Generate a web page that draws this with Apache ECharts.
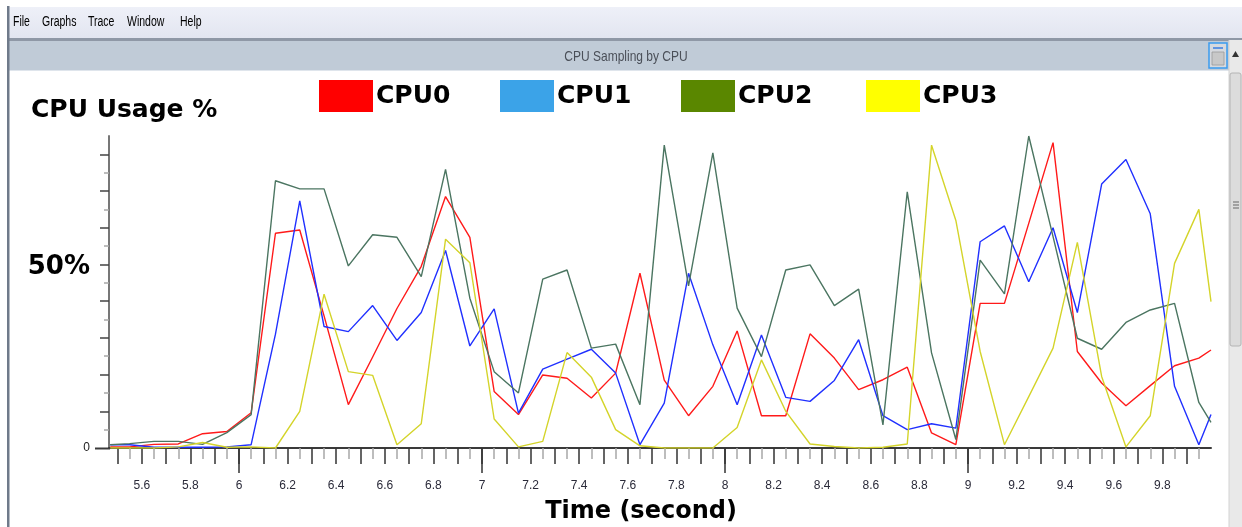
<!DOCTYPE html>
<html><head><meta charset="utf-8">
<script src="https://cdn.jsdelivr.net/npm/echarts@6/dist/echarts.min.js"></script>
<style>html,body{margin:0;padding:0;background:#fff}#c{width:1242px;height:527px}</style>
</head><body><div id="c"></div>
<script>
// ---- data (time in seconds, CPU usage %) ----
const times = [5.47,5.55,5.65,5.75,5.85,5.95,6.05,6.15,6.25,6.35,6.45,6.55,6.65,6.75,6.85,6.95,
  7.05,7.15,7.25,7.35,7.45,7.55,7.65,7.75,7.85,7.95,8.05,8.15,8.25,8.35,8.45,8.55,8.65,8.75,8.85,8.95,
  9.05,9.15,9.25,9.35,9.45,9.55,9.65,9.75,9.85,9.95,10.0];
const cpu0 = [0.3,0.3,1.0,1.1,3.9,4.5,9.6,58.5,59.4,36,11.8,24.8,38,49.5,68.5,57.4,
  15.4,9.1,19.9,19.0,13.6,20.4,47.6,18.5,8.8,16.8,31.9,8.8,8.8,31.1,24.5,15.9,18.6,22.0,4.1,0.9,
  39.4,39.4,61.2,83.2,26.3,17.7,11.5,17.0,22.4,24.5,26.7];
const cpu1 = [0.9,0.9,0.2,0.2,0.2,0.3,0.9,31,67.3,33.1,31.7,38.8,29.3,36.9,53.8,27.8,
  37.9,9.5,21.5,24.2,26.9,20.4,0.9,12.2,47.6,28.1,11.8,30.8,13.8,12.7,18.4,29.5,8.8,5.0,6.6,5.4,
  56.2,60.5,45.3,60.0,36.9,71.9,78.6,63.8,16.8,0.9,9.1];
const cpu2 = [0.9,1.2,1.8,1.8,1.0,4.2,9.1,72.8,70.6,70.6,49.6,58.1,57.4,46.7,75.9,40.8,
  20.8,15.0,46.0,48.5,27.2,28.3,11.8,82.5,44.2,80.4,38.1,24.9,48.5,49.9,38.8,43.3,6.3,69.8,25.9,2.3,
  51.2,42.0,85.0,57.6,29.9,26.9,34.2,37.6,39.4,12.4,7.0];
const cpu3 = [0,0,0,0.3,1.5,0.2,0.3,0,10.0,41.9,20.8,19.8,0.9,6.6,56.9,50.5,
  7.9,0.3,1.8,26.0,19.3,5.0,0.6,0,0,0,5.6,24.0,10.0,1.1,0.4,0,0.2,1.1,82.5,62,
  26.3,0.9,14.0,27.2,56.0,19.5,0.3,8.8,50.3,65.0,39.9];
const seriesNames = ['CPU0','CPU1','CPU2','CPU3'];
const xLabelValues = [5.6,5.8,6,6.2,6.4,6.6,6.8,7,7.2,7.4,7.6,7.8,8,8.2,8.4,8.6,8.8,9,9.2,9.4,9.6,9.8];
const yLabelValues = [0,50];
const menuItems = ['File','Graphs','Trace','Window','Help'];
const windowTitle = 'CPU Sampling by CPU';
const yTitle = 'CPU Usage %';
const xTitle = 'Time (second)';

// ---- styling ----
const legendColors = ['#ff0000','#3ba3e8','#5a8700','#ffff00'];
const lineColors = ['#ff1a1a','#2030ff','#4b7561','#d4d42a'];
const legendLeft = [319,500,681,866];
const menuX = [13,42,88,127,180];
const sans = "'Liberation Sans','DejaVu Sans',sans-serif";
const bold = "'DejaVu Sans','Liberation Sans',sans-serif";

const r = v => Math.round(v*100)/100;
const xTickMajor = [], xTickMinor = [], xTickInt = [6,7,8,9];
for (let i = 55; i <= 99; i++) xTickMajor.push(r(i/10));
for (let i = 55; i <= 99; i++) xTickMinor.push(r(i/10+0.05));
const yTickMajor = [10,20,30,40,50,60,70,80], yTickMinor = [5,15,25,35,45,55,65,75];

const X_MIN = 5.465, X_MAX = 10.0, Y_MIN = 0, Y_MAX = 85;
const gridBox = {left:109, right:31, top:136, bottom:79, outerBoundsMode:'none'};

const baseX = (extra) => Object.assign({type:'value', min:X_MIN, max:X_MAX, position:'bottom',
  splitLine:{show:false}, axisLine:{show:false}, axisLabel:{show:false}, axisTick:{show:false}}, extra);
const baseY = (extra) => Object.assign({type:'value', min:Y_MIN, max:Y_MAX, position:'left',
  splitLine:{show:false}, axisLine:{show:false}, axisLabel:{show:false}, axisTick:{show:false}}, extra);

const seriesData = [cpu0,cpu1,cpu2,cpu3];

const option = {
  animation:false,
  backgroundColor:'#ffffff',
  grid:[Object.assign({},gridBox),Object.assign({},gridBox),Object.assign({},gridBox)],
  xAxis:[
    baseX({gridIndex:0,
      axisLine:{show:true,onZero:false,lineStyle:{color:'#3a3a3a',width:2}},
      axisTick:{show:true,length:16,customValues:xTickMajor,lineStyle:{color:'#333',width:1.5}},
      axisLabel:{show:true,customValues:xLabelValues,margin:32,fontFamily:sans,fontSize:12,color:'#2b2b3a',
        formatter:v=>String(r(v))}}),
    baseX({gridIndex:1,
      axisTick:{show:true,length:11,customValues:xTickMinor,lineStyle:{color:'#a8a8a8',width:1.5}}}),
    baseX({gridIndex:2,
      axisTick:{show:true,length:25,customValues:xTickInt,lineStyle:{color:'#333',width:1.5}}})
  ],
  yAxis:[
    baseY({gridIndex:0,
      axisLine:{show:true,onZero:false,lineStyle:{color:'#777',width:2}},
      axisTick:{show:true,length:9,customValues:yTickMajor,lineStyle:{color:'#444',width:1.5}},
      axisLabel:{show:true,customValues:yLabelValues,margin:19,
        formatter:v=> v===0 ? '{s|0}' : '{b|'+v+'%}',
        rich:{s:{fontFamily:sans,fontSize:12,color:'#222'},
              b:{fontFamily:bold,fontWeight:'bold',fontSize:26,color:'#000',padding:[6,0,0,0]}}}}),
    baseY({gridIndex:1,
      axisTick:{show:true,length:5,customValues:yTickMinor,lineStyle:{color:'#a8a8a8',width:1.5}}}),
    baseY({gridIndex:2})
  ],
  legend: seriesNames.map((n,i)=>({
    left:legendLeft[i], top:80, padding:0, itemWidth:54, itemHeight:32, icon:'rect',
    selectedMode:false, itemGap:0,
    data:[{name:n, itemStyle:{color:legendColors[i], borderWidth:0}}],
    textStyle:{fontFamily:bold, fontWeight:'bold', fontSize:25, color:'#000', padding:[4,0,0,-2]}
  })),
  series: seriesNames.map((n,i)=>({
    name:n, type:'line', xAxisIndex:0, yAxisIndex:0, showSymbol:false, symbol:'none',
    color:legendColors[i],
    lineStyle:{color:lineColors[i], width:1.4},
    data: times.map((t,k)=>[t, seriesData[i][k]])
  })),
  graphic:{elements:[
    // window chrome
    {type:'rect', z:-10, shape:{x:0,y:0,width:1242,height:8}, style:{fill:'#ffffff'}},
    {type:'rect', z:-10, shape:{x:8,y:7,width:1234,height:32},
      style:{fill:new echarts.graphic.LinearGradient(0,0,0,1,[{offset:0,color:'#eef0f8'},{offset:1,color:'#e2e5f0'}])}},
    {type:'rect', z:-9, shape:{x:8,y:38,width:1234,height:3}, style:{fill:'#8f98a6'}},
    {type:'rect', z:-10, shape:{x:8,y:41,width:1234,height:29}, style:{fill:'#c0cbd7'}},
    {type:'rect', z:-9, shape:{x:8,y:70,width:1234,height:1}, style:{fill:'#dfe5ec'}},
    {type:'rect', z:5, shape:{x:7,y:6,width:2.5,height:521}, style:{fill:'#6f7a8a'}},
    ...menuItems.map((m,i)=>({type:'text', z:5, x:menuX[i], y:22, scaleX:0.75,
      style:{text:m, fontFamily:sans, fontSize:14, fill:'#000', textVerticalAlign:'middle'}})),
    {type:'text', z:5, x:626, y:57, scaleX:0.8, style:{text:windowTitle, fontFamily:sans, fontSize:15, fill:'#4a4f58',
      textAlign:'center', textVerticalAlign:'middle'}},
    // title-bar icon
    {type:'rect', z:5, shape:{x:1209,y:43,width:18,height:25}, style:{fill:'#d6d9de', stroke:'#3a9cf0', lineWidth:1.5}},
    {type:'rect', z:6, shape:{x:1212,y:52,width:12,height:13}, style:{fill:'#c8c8c8', stroke:'#9a9a9a', lineWidth:0.8}},
    {type:'line', z:6, shape:{x1:1213,y1:48,x2:1223,y2:48}, style:{stroke:'#3a7ce0', lineWidth:1.5}},
    // scrollbar
    {type:'rect', z:5, shape:{x:1229,y:40,width:13,height:487}, style:{fill:'#e9e9e9'}},
    {type:'line', z:6, shape:{x1:1229,y1:40,x2:1229,y2:527}, style:{stroke:'#d3d3d3', lineWidth:1}},
    {type:'polygon', z:6, shape:{points:[[1235.5,51],[1232,57],[1239,57]]}, style:{fill:'#333'}},
    {type:'rect', z:6, shape:{x:1230,y:73,width:11,height:273,r:2}, style:{fill:'#dcdcdc', stroke:'#b4b4b4', lineWidth:1}},
    {type:'line', z:7, shape:{x1:1233,y1:202,x2:1239,y2:202}, style:{stroke:'#666', lineWidth:1}},
    {type:'line', z:7, shape:{x1:1233,y1:205,x2:1239,y2:205}, style:{stroke:'#666', lineWidth:1}},
    {type:'line', z:7, shape:{x1:1233,y1:208,x2:1239,y2:208}, style:{stroke:'#666', lineWidth:1}},
    // x axis stub left of y axis
    {type:'line', z:5, shape:{x1:95,y1:448.5,x2:110,y2:448.5}, style:{stroke:'#3a3a3a', lineWidth:2}},
    // axis titles
    {type:'text', z:5, x:31, y:110, style:{text:yTitle, fontFamily:bold, fontWeight:'bold', fontSize:25, fill:'#000',
      textVerticalAlign:'middle'}},
    {type:'text', z:5, x:641, y:512, style:{text:xTitle, fontFamily:bold, fontWeight:'bold', fontSize:24, fill:'#000',
      textAlign:'center', textVerticalAlign:'middle'}}
  ]}
};
const chart = echarts.init(document.getElementById('c'), null, {renderer:'canvas'});
chart.setOption(option);
</script>
</body></html>
